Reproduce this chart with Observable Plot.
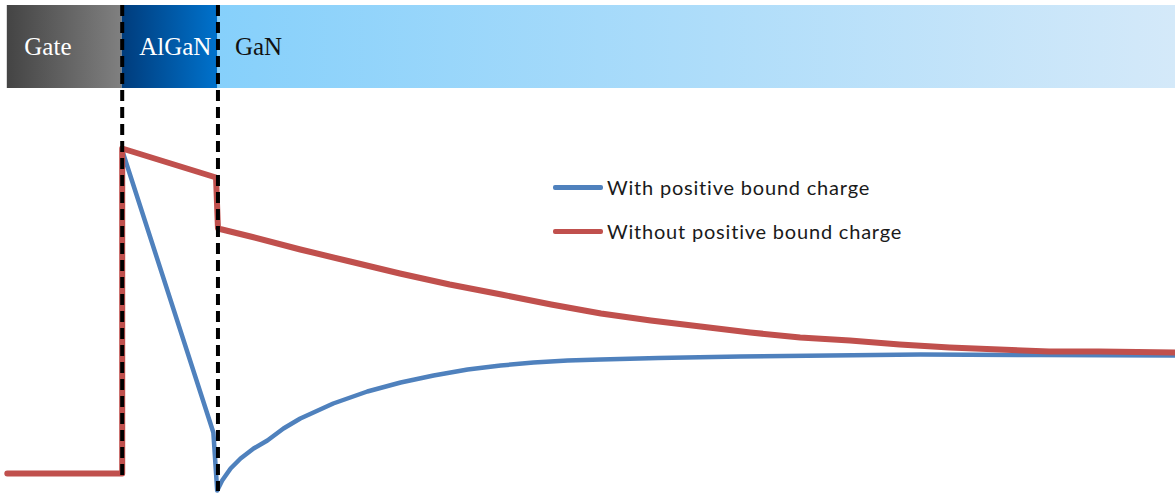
<!DOCTYPE html>
<html><head><meta charset="utf-8">
<script src="https://cdn.jsdelivr.net/npm/d3@7"></script>
<script src="https://cdn.jsdelivr.net/npm/@observablehq/plot@0.6"></script>
<style>
html,body{margin:0;padding:0;background:#fff;}
#wrap{position:relative;width:1175px;height:499px;}
#legend{position:absolute;left:553px;top:175px;font-family:Lato,"Open Sans",sans-serif;font-size:20px;letter-spacing:0.8px;color:#1a1a1a;}
.item{display:flex;align-items:center;height:24px;margin-bottom:20px;}
.sw{width:50px;height:5px;border-radius:2px;margin-right:4px;}
</style></head><body>
<div id="wrap"><div id="legend"></div></div>
<script>
// Layers (position in nm, interfaces at 0 and 25)
const layerNames = ["Gate", "AlGaN", "GaN"];
const layerStart = [-30, 0, 25];
const layerEnd = [0, 25, 275];
const interfaces = [0, 25];

// Series names
const seriesNames = ["With positive bound charge", "Without positive bound charge"];

// With positive bound charge (blue)
const blueX = [-30, 0, 0, 23.8, 24.8, 26.1, 28.3, 30.9, 34.3, 37.9, 42.1, 46.5, 55.1, 64, 72.7, 81.3, 90.2, 98.8, 107.4, 116.3, 124.9, 140, 161.4, 208.4, 240, 275];
const blueY = [0, 0, 3.23, 0.41, -0.17, -0.07, 0.05, 0.15, 0.25, 0.33, 0.45, 0.55, 0.70, 0.82, 0.91, 0.98, 1.04, 1.08, 1.11, 1.13, 1.14, 1.155, 1.17, 1.19, 1.185, 1.18];

// Without positive bound charge (red)
const redX = [-30, 0, 0, 24.5, 25, 33.5, 46.5, 59.5, 72.5, 85.5, 99, 112, 125, 138, 151, 164, 177, 190, 203, 216, 229, 242, 255, 275];
const redY = [0, 0, 3.25, 2.96, 2.45, 2.37, 2.24, 2.12, 2.00, 1.89, 1.79, 1.69, 1.60, 1.53, 1.47, 1.41, 1.36, 1.33, 1.29, 1.26, 1.24, 1.22, 1.22, 1.21];

const layers = layerNames.map((name, i) => ({name, x1: layerStart[i], x2: layerEnd[i]}));
const blue = blueX.map((x, i) => ({x, y: blueY[i]}));
const red = redX.map((x, i) => ({x, y: redY[i]}));
const bounds = interfaces.map((x, i) => ({x, i}));

const gradStops = {
  Gate: ["#444444", "#808080"],
  AlGaN: ["#003c7c", "#0072cc"],
  GaN: ["#86d0fb", "#d4e9f9"]
};
const textFill = {Gate: "#ffffff", AlGaN: "#ffffff", GaN: "#111111"};
const colors = ["#4f81bd", "#c0504d"];

const bandTop = 4.68, bandBottom = 3.85;
const ruleBottom = [-0.06, -0.18];

const marks = [];
layers.forEach((l) => {
  marks.push(Plot.rect([l], {x1: "x1", x2: "x2", y1: bandBottom, y2: bandTop, fill: `url(#grad-${l.name})`}));
});
marks.push(Plot.text(layers, {x: "x1", y: (bandTop + bandBottom) / 2, text: "name", textAnchor: "start", dx: 17, fontFamily: "'Liberation Serif', 'DejaVu Serif', serif", fontSize: 25, fill: d => textFill[d.name]}));
marks.push(Plot.line(blue, {x: "x", y: "y", stroke: colors[0], strokeWidth: 4.5, strokeLinejoin: "round", strokeLinecap: "round"}));
marks.push(Plot.line(red, {x: "x", y: "y", stroke: colors[1], strokeWidth: 6, strokeLinejoin: "round", strokeLinecap: "round"}));
marks.push(Plot.ruleX(bounds, {x: "x", y1: bandTop, y2: d => ruleBottom[d.i], stroke: "black", strokeWidth: 4, strokeDasharray: "11,6"}));

const svg = Plot.plot({
  width: 1175,
  height: 499,
  marginLeft: 6.8,
  marginRight: 0,
  marginTop: 0,
  marginBottom: 0,
  x: {domain: [-30, 275], axis: null},
  y: {domain: [-0.26, 4.73], axis: null},
  style: {background: "white", overflow: "visible"},
  marks
});
const defs = d3.select(svg).insert("defs", ":first-child");
Object.entries(gradStops).forEach(([name, [a, b]]) => {
  const g = defs.append("linearGradient").attr("id", `grad-${name}`).attr("x1", "0%").attr("x2", "100%").attr("y1", "0%").attr("y2", "0%");
  g.append("stop").attr("offset", "0%").attr("stop-color", a);
  g.append("stop").attr("offset", "100%").attr("stop-color", b);
});
document.getElementById("wrap").prepend(svg);

const legend = document.getElementById("legend");
seriesNames.forEach((name, i) => {
  const item = document.createElement("div");
  item.className = "item";
  const sw = document.createElement("div");
  sw.className = "sw";
  sw.style.background = colors[i];
  const t = document.createElement("span");
  t.textContent = name;
  item.append(sw, t);
  legend.append(item);
});
</script>
</body></html>
